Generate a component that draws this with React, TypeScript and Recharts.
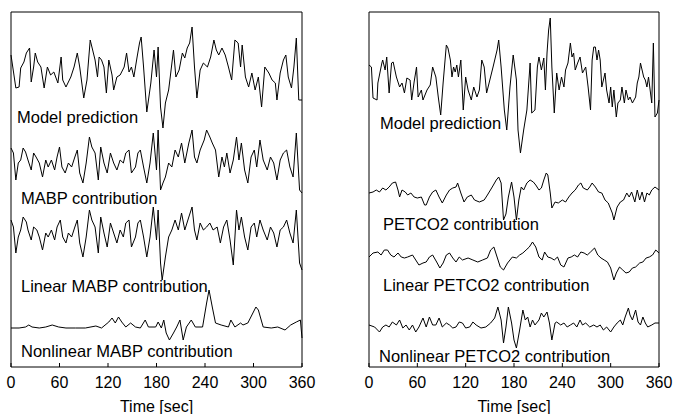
import React from 'react';
import { LineChart, Line, XAxis, YAxis } from 'recharts';

const FONT = '"Liberation Sans", Arial, Helvetica, sans-serif';

const TIME_TICKS = [0, 60, 120, 180, 240, 300, 360];
const RIGHT_Y_TICKS = [41, 84, 129, 172, 215, 259, 301, 344];

// [time (s), value] pairs
const MODEL_L: [number, number][] = [
  [0, 10], [6, -23], [10, -22], [12, -3], [16, 3], [19, 12], [23, 17], [25, -17], [28, -2], [30, 12],
  [33, 3], [37, -2], [41, -23], [45, -2], [49, -10], [53, -7], [58, -18], [62, 8], [64, -15], [68, -22],
  [74, -12], [78, -2], [82, 12], [85, -2], [90, -33], [94, -15], [98, 25], [101, 15], [104, 5], [107, -12],
  [109, 8], [112, 5], [115, -2], [118, -28], [121, 5], [125, -10], [127, -25], [131, -12], [135, -10], [140, -2],
  [143, 12], [146, -7], [149, -2], [152, -12], [156, 8], [159, 22], [161, 28], [164, -2], [168, -47], [173, -18],
  [177, 15], [180, -12], [182, 18], [185, -42], [188, -63], [191, -38], [195, -25], [197, -12], [201, 15], [204, -12],
  [208, -5], [212, 12], [215, 7], [218, 17], [221, 22], [224, 38], [227, -2], [230, -33], [234, -5], [238, 2],
  [243, -2], [247, 8], [251, 25], [254, 15], [257, 10], [261, 17], [265, 10], [269, -2], [273, -15], [277, 25],
  [281, 22], [284, -2], [286, 20], [290, -12], [294, -22], [298, -8], [302, -25], [306, -12], [310, -42], [314, -2],
  [319, -8], [323, -15], [327, -18], [329, -35], [333, -8], [337, 5], [340, 10], [343, -12], [347, -23], [350, -2],
  [353, 27], [356, -35], [360, -35],
];

const MABP_L: [number, number][] = [
  [0, 12], [3, 7], [6, -20], [9, -3], [12, 0], [15, 12], [18, 8], [21, 0], [25, -10], [28, 7],
  [31, 3], [35, -3], [39, -17], [43, 0], [46, -7], [50, 0], [54, -10], [57, 3], [60, 13], [63, -7],
  [67, -13], [71, -3], [75, -7], [79, 3], [82, 10], [85, -13], [89, -23], [93, -3], [97, 23], [100, 13],
  [104, 7], [108, -20], [111, 13], [115, -3], [119, -13], [123, 7], [127, -3], [131, -10], [135, 0], [139, -3],
  [142, 7], [146, 10], [149, -13], [154, -7], [157, 7], [160, 10], [164, -7], [168, -23], [172, -3], [176, 27],
  [180, -10], [182, 30], [185, -30], [188, -23], [191, -17], [195, -3], [199, -7], [203, 10], [207, 3], [211, 17],
  [215, -3], [220, 17], [224, 30], [227, 3], [230, -3], [234, 10], [239, 20], [242, 30], [246, 23], [249, 17],
  [253, 10], [257, -17], [261, 3], [264, -7], [267, 7], [271, -13], [275, 0], [279, 23], [282, 0], [285, 17],
  [289, -10], [293, -23], [297, 3], [301, 10], [304, -7], [308, 20], [312, 0], [317, -10], [321, 3], [325, -3],
  [329, -20], [333, 0], [337, 7], [341, 10], [345, -7], [349, -17], [353, 27], [357, -30], [360, -33],
];

const LIN_MABP_L: [number, number][] = [
  [0, 17], [3, 10], [6, -16], [9, 0], [12, 7], [15, 20], [19, 15], [21, 7], [25, -3], [28, 10],
  [32, 7], [35, 0], [39, -13], [43, 4], [46, 0], [50, 7], [54, -3], [57, 10], [61, 17], [64, 0],
  [68, -6], [71, 4], [75, 0], [79, 10], [82, 17], [85, -6], [89, -20], [93, 0], [97, 27], [100, 17],
  [104, 10], [108, -16], [111, 20], [115, 4], [119, -10], [123, 14], [127, 4], [131, -6], [135, 7], [139, 0],
  [142, 14], [146, 17], [149, -10], [154, 0], [157, 14], [160, 17], [164, 0], [168, -20], [172, 0], [176, 30],
  [180, -3], [182, 27], [185, -26], [187, -43], [191, -20], [195, 0], [199, 7], [203, 17], [207, 7], [211, 24],
  [215, 7], [220, 20], [224, 30], [227, 7], [230, -3], [234, 14], [238, 7], [242, 10], [246, 14], [250, 7],
  [255, 10], [259, -6], [263, 10], [267, 17], [271, -3], [275, -28], [279, 27], [282, 7], [285, 20], [289, 0],
  [293, -13], [297, 10], [301, 14], [304, 0], [308, 17], [312, 7], [317, -3], [321, 10], [325, 4], [329, -10],
  [333, 7], [337, 10], [341, 17], [345, 4], [349, -6], [353, 27], [357, -26], [360, -33],
];

const NONLIN_MABP_L: [number, number][] = [
  [0, 0], [10, 0], [18, 1], [22, 3], [26, 1], [35, 0], [43, 1], [51, 3], [59, 1], [68, 0],
  [80, 0], [92, 0], [105, 2], [112, 0], [121, 6], [125, 10], [129, 5], [133, 11], [137, 6], [142, 1],
  [148, 5], [154, 1], [160, 0], [166, 8], [170, 1], [179, 1], [182, 6], [186, 0], [189, 8], [192, -5],
  [196, -12], [201, -5], [205, 1], [209, 8], [213, -12], [217, 1], [223, 8], [228, 1], [237, 1], [242, 25],
  [245, 38], [249, 21], [253, 5], [260, 3], [269, 1], [272, 8], [277, 1], [284, 5], [287, 3], [293, 5],
  [303, 21], [306, 18], [312, 1], [322, 0], [330, 1], [339, -2], [346, 3], [353, 6], [358, 8], [360, -10],
];

const MODEL_R: [number, number][] = [
  [0, 10], [3, 8], [5, -23], [10, -25], [11, -8], [16, 12], [17, 15], [20, 5], [22, 18], [25, -18],
  [28, 12], [30, 13], [34, -2], [38, -12], [41, -8], [44, -18], [47, -3], [51, -5], [53, -25], [56, -7],
  [59, 8], [61, -22], [65, -15], [67, -25], [72, -15], [76, -10], [79, 8], [83, -2], [86, -22], [89, -40],
  [92, -8], [96, 30], [98, 27], [101, 15], [103, -2], [105, 8], [107, 3], [109, 10], [111, -2], [114, 15],
  [117, -35], [120, -2], [123, -15], [127, -25], [130, -12], [134, -22], [137, -15], [140, 15], [143, 8], [146, -18],
  [150, -5], [154, 8], [159, 25], [161, 35], [164, 8], [168, -35], [171, -55], [175, -12], [179, 20], [183, -5],
  [185, -55], [188, -78], [192, -55], [196, -35], [200, 12], [202, -38], [206, -35], [209, 8], [211, 18], [214, 5],
  [217, 17], [219, -15], [221, 22], [223, 45], [225, 57], [227, 8], [230, -38], [233, 2], [236, -15], [239, -2],
  [242, -12], [244, 5], [247, 12], [250, 32], [252, 18], [254, 22], [256, 5], [259, 12], [262, 18], [265, 2],
  [269, 8], [272, -12], [275, -35], [277, 15], [279, 28], [281, 28], [283, 15], [285, 25], [287, 15], [289, -12],
  [293, 2], [295, -15], [298, -28], [300, -12], [302, -32], [304, -15], [307, -42], [309, -28], [312, -25], [314, -12],
  [317, -28], [319, -15], [322, -25], [324, -22], [327, -28], [331, -22], [333, -8], [335, -2], [337, 12], [339, 5],
  [341, -2], [343, -5], [345, -12], [347, -2], [349, -15], [351, -28], [353, 32], [355, -42], [358, -38], [360, -25],
];

const PETCO2_R: [number, number][] = [
  [0, -1], [5, 0], [9, 2], [13, 0], [17, 4], [21, 2], [25, 5], [29, 9], [33, 10], [36, 2],
  [38, -5], [41, 2], [45, 0], [48, -3], [52, -1], [56, -5], [60, -6], [65, -5], [69, -13], [71, -13],
  [75, -5], [79, 0], [83, 2], [87, -5], [91, -11], [96, -3], [100, 2], [104, 4], [108, 5], [110, 9],
  [114, -1], [118, -10], [122, -5], [127, -3], [131, -8], [137, -10], [143, -8], [147, -3], [153, 5], [158, 12],
  [161, 15], [164, 9], [167, -28], [170, -22], [173, -5], [177, 10], [180, -5], [183, -28], [186, -8], [189, 5],
  [192, 2], [196, 9], [200, 12], [204, 10], [207, 7], [211, 2], [214, 4], [217, 12], [220, 19], [222, 17],
  [225, -1], [227, -16], [229, -13], [231, -10], [235, -11], [240, -8], [244, -10], [248, -5], [252, -1], [256, 2],
  [260, 7], [263, 9], [266, 4], [271, 2], [274, 5], [277, 9], [281, 5], [285, 0], [289, -1], [293, -8],
  [297, -11], [302, -21], [304, -28], [308, -15], [312, -10], [316, -8], [320, -1], [323, -5], [326, 0], [330, -10],
  [333, 2], [336, -8], [339, 0], [342, -10], [345, -1], [348, -3], [351, 2], [355, 5], [360, 2],
];

const LIN_PETCO2_R: [number, number][] = [
  [0, 1], [5, 5], [11, 6], [15, 3], [19, 8], [23, 8], [27, 3], [31, 1], [36, 5], [40, 1],
  [44, 0], [48, 1], [54, 3], [58, -2], [62, -7], [67, -5], [71, -4], [75, 1], [79, 3], [84, -4],
  [88, -10], [92, -5], [96, 3], [100, 5], [104, 0], [108, -4], [112, 1], [116, -2], [123, 0], [129, -2],
  [135, -4], [141, -2], [147, 0], [151, 8], [155, 11], [159, 1], [163, -9], [167, -12], [172, -5], [178, 1],
  [183, 0], [187, 3], [191, 5], [195, 8], [199, 11], [203, 16], [207, 11], [211, 1], [215, -2], [218, 6],
  [222, 1], [226, 0], [230, -2], [234, 1], [238, -7], [242, -9], [247, 0], [251, 1], [255, 3], [259, 1],
  [263, 6], [267, 5], [271, 3], [275, 6], [280, 10], [284, 3], [288, 0], [292, -2], [296, -4], [300, -10],
  [304, -22], [307, -15], [311, -9], [315, -12], [319, -15], [323, -14], [327, -10], [331, -9], [336, -5], [340, -4],
  [344, 0], [348, 1], [352, 3], [356, 8], [360, 5],
];

const NONLIN_PETCO2_R: [number, number][] = [
  [0, 1], [7, -1], [13, -6], [17, -1], [21, 1], [25, -1], [29, 4], [34, 1], [38, 6], [42, -2],
  [46, 1], [50, -4], [54, 1], [58, -6], [62, -1], [67, 8], [71, -1], [75, 9], [79, 1], [83, 1],
  [87, 8], [91, -1], [96, 3], [100, 1], [104, -2], [108, -1], [112, 4], [116, 3], [120, -2], [125, -1],
  [129, 4], [133, 1], [139, -2], [145, -1], [151, 3], [156, 8], [160, 19], [164, 6], [167, -17], [170, -1],
  [173, 19], [177, 3], [180, -14], [183, -22], [187, -4], [191, 16], [194, 6], [197, 9], [200, -1], [203, 6],
  [206, 1], [211, 6], [214, 13], [217, 9], [221, 14], [224, 3], [227, -14], [231, 3], [233, 4], [238, 1],
  [242, 3], [246, -1], [250, 1], [254, 3], [258, -1], [262, 6], [265, 1], [269, 3], [274, -1], [279, 1],
  [283, -1], [287, 1], [291, -4], [295, -1], [300, -6], [304, -1], [308, 3], [312, 6], [315, 1], [318, 9],
  [322, 18], [324, 11], [327, 6], [331, 16], [334, 4], [337, 1], [340, 9], [343, 3], [346, -1], [351, 1],
  [355, 3], [360, 3],
];

type Trace = { key: string; points: [number, number][]; offset: number };
type Caption = { text: string; x: number; baseline: number };

const toSeries = (points: [number, number][], offset: number) =>
  points.map(([t, v]) => ({ t, v: v + offset }));

const LEFT_TRACES: Trace[] = [
  { key: 'modelL', points: MODEL_L, offset: 302 },
  { key: 'mabpL', points: MABP_L, offset: 207 },
  { key: 'linMabpL', points: LIN_MABP_L, offset: 130 },
  { key: 'nonlinMabpL', points: NONLIN_MABP_L, offset: 39 },
];

const RIGHT_TRACES: Trace[] = [
  { key: 'modelR', points: MODEL_R, offset: 292 },
  { key: 'petco2R', points: PETCO2_R, offset: 175 },
  { key: 'linPetco2R', points: LIN_PETCO2_R, offset: 109 },
  { key: 'nonlinPetco2R', points: NONLIN_PETCO2_R, offset: 41 },
];

const LEFT_CAPTIONS: Caption[] = [
  { text: 'Model prediction', x: 17, baseline: 123 },
  { text: 'MABP contribution', x: 21, baseline: 204 },
  { text: 'Linear MABP contribution', x: 21, baseline: 292 },
  { text: 'Nonlinear MABP contribution', x: 21, baseline: 357 },
];

const RIGHT_CAPTIONS: Caption[] = [
  { text: 'Model prediction', x: 380, baseline: 129 },
  { text: 'PETCO2 contribution', x: 383, baseline: 230 },
  { text: 'Linear PETCO2 contribution', x: 383, baseline: 291 },
  { text: 'Nonlinear PETCO2 contribution', x: 379, baseline: 362 },
];

const CAPTION_SIZE = 16.5;
const AXIS_LINE = { stroke: '#000', strokeWidth: 1 };

function Panel({ left, rightMargin, traces, yTicks }: {
  left: number; rightMargin: number; traces: Trace[]; yTicks?: number[];
}) {
  const yProps = yTicks
    ? { ticks: yTicks, interval: 0 as const, tickSize: -4, tickLine: AXIS_LINE }
    : { ticks: [0], tickLine: false };
  return (
    <div style={{ position: 'absolute', left, top: 0 }}>
      <LineChart width={320} height={414} margin={{ top: 11, right: rightMargin, left: 10, bottom: 0 }}>
        <XAxis
          dataKey="t"
          type="number"
          domain={[0, 360]}
          ticks={TIME_TICKS}
          interval={0}
          tickSize={-4}
          tickMargin={14}
          height={47}
          axisLine={AXIS_LINE}
          tickLine={AXIS_LINE}
          tick={{ fill: '#000', fontSize: 16, fontFamily: FONT }}
          label={{ value: 'Time [sec]', position: 'insideBottom', offset: 2, fill: '#000', fontSize: 16, fontFamily: FONT }}
        />
        <XAxis
          xAxisId="top"
          orientation="top"
          dataKey="t"
          type="number"
          domain={[0, 360]}
          ticks={TIME_TICKS}
          interval={0}
          tickSize={-4}
          height={1}
          tick={false}
          axisLine={AXIS_LINE}
          tickLine={AXIS_LINE}
        />
        <YAxis type="number" domain={[0, 355]} width={1} tick={false} axisLine={AXIS_LINE} {...yProps} />
        <YAxis yAxisId="r" orientation="right" type="number" domain={[0, 355]} width={1} tick={false} axisLine={AXIS_LINE} {...yProps} />
        {traces.map((tr) => (
          <Line
            key={tr.key}
            data={toSeries(tr.points, tr.offset)}
            dataKey="v"
            type="linear"
            stroke="#000"
            strokeWidth={1}
            dot={false}
            isAnimationActive={false}
          />
        ))}
      </LineChart>
    </div>
  );
}

export default function App() {
  const captions = [...LEFT_CAPTIONS, ...RIGHT_CAPTIONS];
  return (
    <div style={{ position: 'absolute', left: 0, top: 0, width: 678, height: 414, background: '#fff' }}>
      <Panel left={0} rightMargin={17} traces={LEFT_TRACES} />
      <Panel left={358} rightMargin={18} traces={RIGHT_TRACES} yTicks={RIGHT_Y_TICKS} />
      {captions.map((c) => (
        <div
          key={c.text + c.x}
          style={{
            position: 'absolute',
            left: c.x,
            top: c.baseline - CAPTION_SIZE * 0.8465,
            fontSize: CAPTION_SIZE,
            lineHeight: `${CAPTION_SIZE}px`,
            fontFamily: FONT,
            color: '#000',
            whiteSpace: 'nowrap',
          }}
        >
          {c.text}
        </div>
      ))}
    </div>
  );
}
